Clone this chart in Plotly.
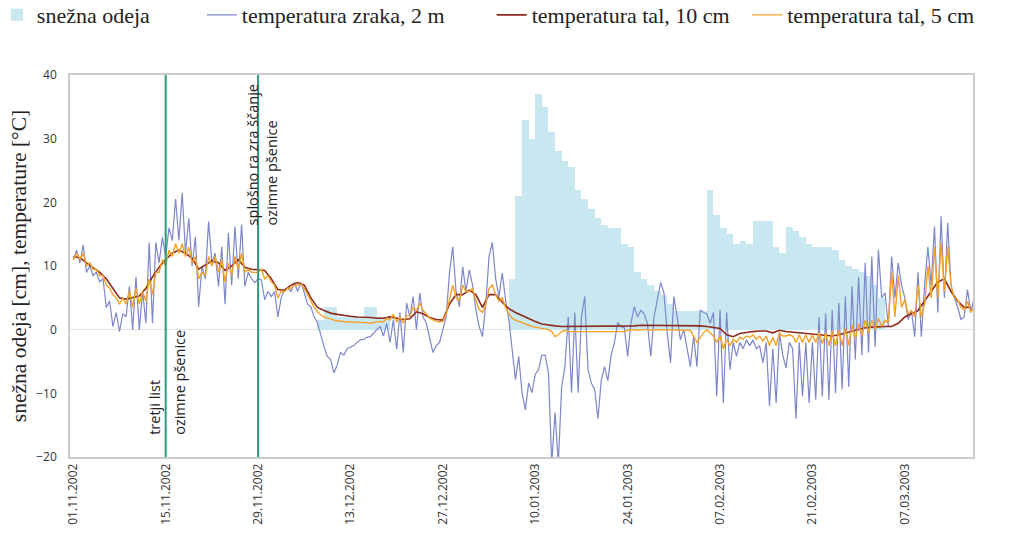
import pandas as pd
import plotly.graph_objects as go

# ---------------- data ----------------
start = "2002-11-01"
n_days = 137

# snow cover depth [cm], daily
snow_cm = ([0] * 37 +
           [1.5, 3.5, 3.5, 2, 2, 2, 2, 3.5, 3.5, 2, 2] +
           [0] * 18 +
           [8, 21, 33, 30, 37, 35, 31, 28, 26.5, 25.5, 22, 20.5, 19, 17.5, 16.5, 16, 16, 13.5, 13, 9,
            8, 7, 6, 5.5, 4, 3, 3, 3, 3, 3,
            22, 18, 16, 15, 13.5, 14, 13.5, 17, 17, 17, 13, 12, 16.2, 15.5, 14.5, 13.5, 13, 13, 13, 12.5,
            11, 10, 9.5, 9, 8.5, 7, 5] +
           [0] * 14)

# air temperature 2 m [°C], two readings per day
air_2m = [
    11, 12.5, 10.5, 13.3, 9, 10, 8.5, 9, 7.5, 8, 3.5, 4.5, 0.5, 2.7, -0.3, 2.5, 2, 6.8, 0, 8.3,
    0, 6, 1, 13.7, 1, 13.7, 10.5, 14.5, 11.5, 16, 14, 20.5, 14, 21.5, 12, 17.5, 10, 14.6, 3.6, 10,
    8, 17, 10.5, 12, 6.8, 13, 4, 15.2, 7, 16.2, 8, 16.5, 6.8, 9, 8, 7.4, 8, 7.8, 4.7, 6,
    5.2, 6, 2, 5, 6.3, 6.5, 6, 7.4, 6, 7.4, 5.8, 4, 3.6, 2, 1.1, -1, -2.7, -4.2, -4.7, -6.8,
    -5.5, -3.6, -4, -3, -2.7, -2.5, -2, -1.6, -1.5, -1.2, -1.1, -0.5, 0, 0.5, -1, 1, -2, 1.6, -3.1, 2.7,
    -3.6, 4.2, 2, 5.2, 0, 5.8, 2, 1, -1.6, -3.6, -2.5, -2, 0, 2, 8.9, 13, 6, 3.6, 9.9, 6,
    9.4, 7, 3.1, 0.5, -1.1, 4, 11.5, 13.7, 8, 5.2, 8.9, 4.7, 1.6, -2.7, -7.8, -4.2, -9.9, -12.6, -8.4, -9.9,
    -7, -6.3, -4, -4, -6.8, -21, -13, -21, -9, -5.8, 2, -9.9, 2.7, -9.9, 2, 5.2, -6.3, -8.4, -9.4, -14,
    -8, -5.8, -8, -4, -2, 1.1, 0.5, 0.3, -4.2, 1, 3.6, 2, 3, 2.5, 1, -4.2, 2, 4.7, 7.4, 5.8,
    -0.5, -5.2, 5.2, 2, -1.6, 0, -3.1, -5.8, -1, -5.8, 3.1, 2.7, 2.5, 1, 2.7, -10.5, 3.1, -11.5, 2.7, -6.3,
    -2, -4.2, -2, -3, -1.6, -2.5, -1.6, -3, -2.5, -5.2, -2, -12, -3, -11.5, -0.5, -4, -6, -2, -3, -14,
    -2, -10.5, -2, -11.5, -2, -11, 2, -10.5, 2.5, -11, 3.1, -10, 4.2, -9.4, 5.2, -9, 6.8, -4.7, 8.3, -4,
    10.5, -3.6, 11.5, -2.7, 12.6, 5, 5.8, 0.5, 11.5, 5, 10.5, 7, 5, 1.6, 3, -1.1, 9, -1.1, 7, 13,
    7, 16.2, 2.7, 17.8, 5, 16.8, 7, 5, 3.6, 1.6, 2, 6.3, 2.7, 5,
]

# soil temperature 10 cm [°C], daily
soil_10cm = [
    11.5, 11.3, 10.5, 9.8, 9.0, 8.0, 6.5, 5.0, 4.8, 5.0,
    5.3, 6.5, 8.3, 9.8, 11.0, 12.0, 12.5, 12.0, 11.2, 9.5,
    10.2, 10.8, 10.5, 9.3, 10.0, 11.0, 9.8, 9.5, 9.4, 9.3,
    8.0, 6.3, 6.2, 7.0, 7.4, 7.0, 5.0, 3.5, 3.0, 2.6,
    2.4, 2.2, 2.1, 2.0, 2.0, 1.9, 1.8, 1.8, 2.0, 1.8,
    1.6, 1.7, 2.8, 2.5, 1.9, 1.6, 1.5, 4.0, 5.5, 5.5,
    6.2, 5.5, 3.5, 5.5, 5.5, 4.3, 3.3, 2.7, 2.2, 1.7,
    1.3, 0.9, 0.7, 0.6, 0.5, 0.5, 0.5, 0.5, 0.5, 0.5,
    0.6, 0.6, 0.6, 0.6, 0.6, 0.6, 0.7, 0.7, 0.7, 0.7,
    0.7, 0.7, 0.7, 0.7, 0.6, 0.6, 0.5, 0.4, 0.2, -0.8,
    -1.1, -0.6, -0.4, -0.3, -0.2, -0.2, -0.5, -0.1, -0.3, -0.4,
    -0.4, -0.5, -0.6, -0.7, -0.9, -1.0, -0.8, -0.5, -0.2, 0.0,
    0.3, 0.4, 0.5, 0.5, 0.5, 1.0, 2.0, 2.5, 3.0, 4.5,
    6.0, 7.5, 8.0, 6.0, 4.5, 3.5, 3.5,
]

# soil temperature 5 cm [°C], two readings per day
soil_5cm = [
    11, 12, 11, 12, 10, 10.5, 9.5, 9.5, 8.5, 8.5, 7, 6.5, 5.5, 5, 4, 5, 4, 6, 3.5, 6.5,
    4, 6, 4.5, 8, 5.5, 9, 9, 11, 10, 12.5, 11.5, 13.5, 12, 13.5, 11.5, 13, 10.5, 11.5, 8, 9,
    8.5, 11.5, 10, 11.5, 9, 11, 7.5, 10.5, 8.5, 11.5, 9.5, 12, 9, 9.5, 9, 9, 9, 9.5, 8, 8.5,
    7.5, 7, 5, 6, 6, 6.5, 6.5, 7, 7, 7.2, 6.5, 5.5, 4.5, 3.5, 2.8, 2.3, 2, 1.8, 1.6, 1.5,
    1.4, 1.3, 1.3, 1.2, 1.2, 1.2, 1.1, 1.1, 1.1, 1.1, 1.0, 1.1, 1.1, 1.3, 1.2, 1.8, 1.5, 2.4, 1.2, 2.0,
    1.0, 2.2, 2.2, 3.5, 3, 4.2, 3, 2.5, 1.8, 1.5, 1.3, 1.2, 1.3, 2.5, 5, 7, 5, 4.5, 7, 6,
    6, 6.5, 4.5, 3.2, 2.7, 4, 6.5, 7, 5.5, 4.5, 5, 3.5, 2.5, 1.8, 1.5, 1.3, 1.0, 0.8, 0.6, 0.5,
    0.4, 0.3, 0.2, 0.1, 0, -0.3, -1.1, -0.8, -0.3, -0.1, -0.3, -0.3, -0.3, -0.3, -0.3, -0.3, -0.3, -0.3, -0.3, -0.3,
    -0.3, -0.3, -0.3, -0.3, -0.3, -0.3, -0.3, -0.3, -0.1, 0, 0, -0.1, 0, 0, 0, -0.1, 0, 0, 0, -0.1,
    0, 0, 0, -0.1, 0, 0, 0, -0.1, -1.0, -2, -1.2, -0.5, 0, -0.5, -1, -2, -1, -3, -1.5, -2.5,
    -1.5, -2, -1.2, -1.5, -1, -1.2, -0.8, -1.5, -1, -1.8, -1, -2.5, -1.2, -2.5, -0.5, -1, -1, -0.8, -1, -2,
    -0.8, -2, -0.8, -2, -0.8, -2, -0.5, -2.2, -0.5, -2.5, -0.2, -2.5, 0, -2.5, 0.3, -2.5, 0.8, -1.5, 1.0, -1,
    1.5, -0.5, 1.5, 0, 1.8, 0.5, 1.5, 1, 9, 2, 8.5, 3.5, 4.7, 2.5, 3, 2, 7, 2, 4, 10,
    5, 13, 5, 13.7, 6, 13, 7, 5, 4.7, 3.5, 3.1, 4.5, 2.7, 3.5,
]

tick_dates = ["2002-11-01", "2002-11-15", "2002-11-29", "2002-12-13", "2002-12-27",
              "2003-01-10", "2003-01-24", "2003-02-07", "2003-02-21", "2003-03-07"]
tick_labels = ["01.11.2002", "15.11.2002", "29.11.2002", "13.12.2002", "27.12.2002",
               "10.01.2003", "24.01.2003", "07.02.2003", "21.02.2003", "07.03.2003"]
y_ticks = [-20, -10, 0, 10, 20, 30, 40]

stage_dates = ["2002-11-15", "2002-11-29"]

# ---------------- figure ----------------
days = pd.date_range(start, periods=n_days, freq="D")
days_noon = days + pd.Timedelta(hours=12)
half_days = pd.date_range(start, periods=len(air_2m), freq="12h")

SANS = "Open Sans, Liberation Sans, Arial, sans-serif"
SERIF = "Liberation Serif, Times New Roman, serif"

fig = go.Figure()
fig.add_trace(go.Bar(x=days_noon, y=snow_cm, name="snežna odeja",
                     marker=dict(color="#c8e7f1", line=dict(width=0)),
                     width=86400000, legend="legend"))
fig.add_trace(go.Scatter(x=half_days, y=air_2m, name="temperatura zraka, 2 m", mode="lines",
                         line=dict(color="#7d87c9", width=1.2), legend="legend2"))
fig.add_trace(go.Scatter(x=days, y=soil_10cm, name="temperatura tal, 10 cm", mode="lines",
                         line=dict(color="#8c2a1c", width=1.6), legend="legend3"))
fig.add_trace(go.Scatter(x=half_days, y=soil_5cm, name="temperatura tal, 5 cm", mode="lines",
                         line=dict(color="#f4a227", width=1.4), legend="legend4"))

for d in stage_dates:
    fig.add_shape(type="line", xref="x", yref="paper", x0=d, x1=d, y0=0, y1=1,
                  line=dict(color="#2e9b7d", width=2))

ann_font = dict(family=SANS, size=14.5, color="#222222")
fig.add_annotation(x=stage_dates[0], y=-16.8, xref="x", yref="y", text="tretji list",
                   textangle=-90, showarrow=False, xshift=-12, yanchor="bottom", font=ann_font)
fig.add_annotation(x=stage_dates[0], y=-16.8, xref="x", yref="y", text="ozimne pšenice",
                   textangle=-90, showarrow=False, xshift=13, yanchor="bottom", font=ann_font)
fig.add_annotation(x=stage_dates[1], y=16.0, xref="x", yref="y", text="splošno ra zra ščanje",
                   textangle=-90, showarrow=False, xshift=-6, yanchor="bottom", font=ann_font)
fig.add_annotation(x=stage_dates[1], y=16.0, xref="x", yref="y", text="ozimne pšenice",
                   textangle=-90, showarrow=False, xshift=13, yanchor="bottom", font=ann_font)

leg_common = dict(orientation="h", yanchor="middle", y=1.157, xanchor="left",
                  font=dict(family=SERIF, size=22, color="#222222"),
                  bgcolor="rgba(0,0,0,0)", itemwidth=30)
fig.update_layout(
    width=1011, height=538,
    margin=dict(l=70, r=38, t=75, b=81, autoexpand=False),
    paper_bgcolor="white", plot_bgcolor="white",
    bargap=0,
    showlegend=True,
    legend=dict(x=-0.081, **leg_common),
    legend2=dict(x=0.146, **leg_common),
    legend3=dict(x=0.467, **leg_common),
    legend4=dict(x=0.750, **leg_common),
    xaxis=dict(type="date", range=["2002-10-31 12:00", "2003-03-17 08:00"],
               tickmode="array", tickvals=tick_dates, ticktext=tick_labels,
               tickangle=-90, tickfont=dict(family=SANS, size=12, color="#333333"),
               showgrid=False, zeroline=False, showline=True, mirror=True,
               linecolor="#cccccc", linewidth=1.5, ticks=""),
    yaxis=dict(range=[-20, 40], tickmode="array", tickvals=y_ticks,
               tickfont=dict(family=SANS, size=12, color="#333333"),
               ticklabelstandoff=9,
               showgrid=False, zeroline=True, zerolinecolor="#e2e2e2", zerolinewidth=1,
               showline=True, mirror=True, linecolor="#cccccc", linewidth=1.5, ticks="",
               title=dict(text="snežna odeja [cm], temperature [°C]",
                          font=dict(family=SERIF, size=21.5, color="#222222"), standoff=4)),
)

# place the figure at the very top-left of the page (no default body margin)
fig.write_html("out.html", config={"displayModeBar": False},
               post_script="document.body.style.margin='0';document.body.style.overflow='hidden';")
